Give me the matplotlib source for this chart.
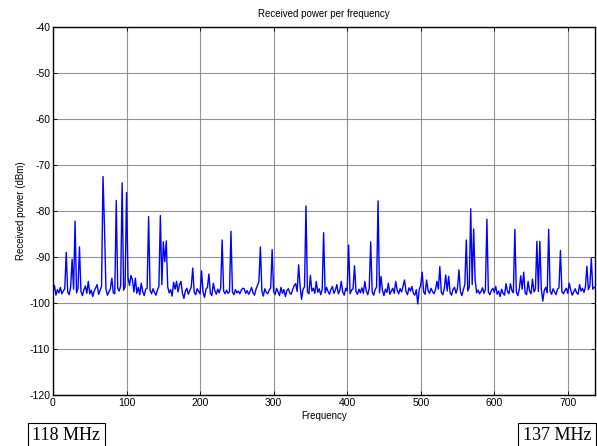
#!/usr/bin/env python3
"""Received power spectrum, 118-137 MHz sweep (MATLAB-style look)."""

import numpy as np
import matplotlib as mpl
import matplotlib.pyplot as plt

mpl.rcParams.update(
    {
        "font.family": ["Liberation Sans", "DejaVu Sans"],
        "font.size": 7,
        "axes.unicode_minus": False,
        "figure.facecolor": "white",
        "axes.facecolor": "white",
    }
)

SAMPLE_STEP = 2  # one reading every 2 frequency bins

# received power (dBm), one value per SAMPLE_STEP bins, 20 bins per row
power_dbm = [
    -97.5, -96.2, -98.3, -97.1, -97.8, -96.6, -98.0, -97.4, -96.9, -89.0,  # 0
    -97.6, -98.2, -96.5, -90.5, -97.0, -82.2, -97.8, -96.8, -87.8, -97.5,  # 20
    -98.4, -97.1, -96.3, -97.9, -95.3, -98.0, -97.2, -98.6, -97.4, -96.7,  # 40
    -96.0, -98.1, -97.3, -96.4, -72.5, -83.5, -97.0, -98.3, -97.6, -96.9,  # 60
    -94.6, -97.8, -98.0, -77.7, -96.8, -97.4, -96.3, -73.9, -97.2, -96.5,  # 80
    -76.0, -94.5, -96.2, -94.0, -95.0, -97.6, -94.6, -97.9, -96.6, -98.2,  # 100
    -95.7, -97.5, -98.4, -97.0, -96.8, -81.2, -97.3, -98.0, -96.9, -97.7,  # 120
    -98.3, -97.2, -96.4, -81.0, -96.0, -86.7, -91.0, -86.5, -96.5, -97.8,  # 140
    -97.1, -98.5, -95.5, -97.0, -95.3, -97.6, -96.0, -95.3, -97.9, -99.0,  # 160
    -97.4, -96.8, -98.1, -97.3, -96.5, -92.4, -97.7, -98.2, -96.9, -97.5,  # 180
    -98.0, -93.0, -97.6, -98.8, -97.0, -96.6, -93.7, -97.9, -98.4, -95.7,  # 200
    -97.3, -98.1, -97.0, -97.8, -96.7, -86.3, -97.4, -98.0, -97.2, -97.9,  # 220
    -97.5, -84.4, -97.6, -98.2, -97.1, -97.8, -97.4, -98.0, -97.2, -96.8,  # 240
    -96.9, -97.9, -97.3, -98.1, -97.5, -96.6, -97.8, -98.3, -97.0, -96.2,  # 260
    -95.3, -87.8, -97.4, -98.5, -96.9, -97.7, -98.0, -97.2, -96.7, -88.4,  # 280
    -97.5, -98.2, -96.8, -97.6, -98.4, -96.6, -97.9, -97.1, -98.6, -97.3,  # 300
    -96.9, -97.8, -98.1, -97.0, -96.2, -95.8, -97.5, -91.7, -96.4, -99.2,  # 320
    -97.0, -96.5, -78.9, -97.6, -98.0, -94.0, -97.4, -96.8, -97.9, -95.3,  # 340
    -97.7, -96.9, -98.2, -97.1, -84.7, -97.8, -96.6, -97.5, -98.1, -97.0,  # 360
    -96.4, -97.9, -97.2, -96.0, -98.0, -97.3, -95.3, -97.6, -98.3, -96.8,  # 380
    -97.4, -87.4, -98.0, -97.2, -96.9, -91.9, -97.5, -98.1, -97.0, -97.8,  # 400
    -96.7, -97.9, -95.3, -97.4, -98.2, -96.8, -86.7, -97.6, -98.3, -97.1,  # 420
    -96.5, -77.8, -97.8, -94.2, -97.3, -98.4, -97.0, -97.7, -95.7, -98.1,  # 440
    -97.4, -96.8, -97.9, -95.3, -97.2, -98.0, -96.9, -97.6, -96.3, -95.0,  # 460
    -97.5, -98.2, -96.7, -97.4, -96.4, -97.9, -98.3, -97.1, -100.2, -97.0,  # 480
    -96.2, -93.3, -97.6, -98.1, -95.0, -97.3, -97.9, -96.8, -97.5, -98.0,  # 500
    -97.2, -95.3, -97.0, -92.1, -97.7, -98.2, -96.9, -93.9, -97.4, -94.2,  # 520
    -97.8, -98.3, -97.0, -96.6, -97.9, -96.8, -92.8, -97.5, -98.4, -97.1,  # 540
    -96.0, -86.3, -97.4, -96.5, -79.5, -96.0, -83.9, -95.0, -97.8, -97.2,  # 560
    -98.0, -97.5, -96.7, -97.9, -97.0, -81.8, -97.6, -98.2, -97.3, -96.8,  # 580
    -97.7, -96.4, -98.1, -97.4, -98.6, -97.0, -97.9, -98.3, -95.8, -97.5,  # 600
    -98.0, -95.8, -97.3, -97.8, -84.0, -97.6, -98.4, -97.1, -94.1, -97.0,  # 620
    -93.3, -97.8, -98.2, -95.3, -97.4, -98.0, -94.8, -97.6, -97.0, -86.6,  # 640
    -97.5, -86.6, -96.9, -99.6, -97.3, -96.6, -97.8, -84.0, -97.4, -98.1,  # 660
    -96.9, -97.6, -98.2, -97.0, -96.7, -88.6, -97.5, -98.0, -97.3, -96.8,  # 680
    -97.9, -95.7, -97.2, -98.3, -97.6, -96.9, -97.8, -98.1, -96.0, -97.4,  # 700
    -96.8, -97.7, -96.5, -92.0, -97.1, -96.3, -90.3, -97.0, -96.6,  # 720
]

x_ticks = [0, 100, 200, 300, 400, 500, 600, 700]
y_ticks = [-120, -110, -100, -90, -80, -70, -60, -50, -40]
band_start = "118 MHz"
band_end = "137 MHz"

freq_bin = np.arange(len(power_dbm)) * SAMPLE_STEP

fig = plt.figure(figsize=(5.97, 4.46), dpi=100)
ax = fig.add_axes([53 / 597, 51 / 446, 542 / 597, 368 / 446])

ax.plot(freq_bin, power_dbm, color="#0000FF", linewidth=1.0)

ax.set_xlim(0, 737)
ax.set_ylim(-120, -40)
ax.set_xticks(x_ticks)
ax.set_yticks(y_ticks)
ax.grid(True, color="#808080", linewidth=0.8, alpha=0.85)
ax.set_axisbelow(True)
ax.tick_params(direction="in", length=3, width=0.6, top=True, right=True,
               labelsize=7.5, pad=2)
for spine in ax.spines.values():
    spine.set_linewidth(1.0)

ax.set_title("Received power per frequency", fontsize=7, pad=7)
ax.set_xlabel("Frequency", fontsize=7, labelpad=2)
ax.set_ylabel("Received power (dBm)", fontsize=7, labelpad=2)

box = {"boxstyle": "square,pad=0.25", "facecolor": "white",
       "edgecolor": "black", "linewidth": 0.8}
fig.text(66.5 / 597, (446 - 436) / 446, band_start, ha="center", va="center",
         family="Liberation Serif", fontsize=13, bbox=box)
fig.text(557 / 597, (446 - 436) / 446, band_end, ha="center", va="center",
         family="Liberation Serif", fontsize=13, bbox=box)

fig.savefig("out.png", dpi=100)
